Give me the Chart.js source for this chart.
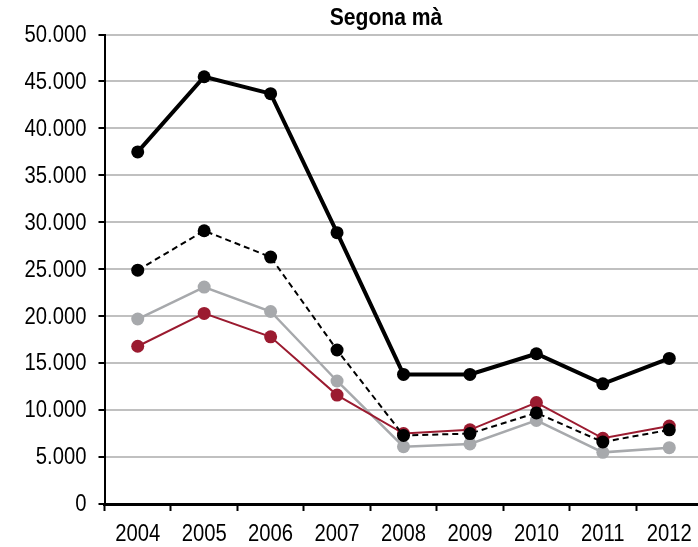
<!DOCTYPE html>
<html>
<head>
<meta charset="utf-8">
<script src="https://cdn.jsdelivr.net/npm/chart.js@4"></script>
<style>
html,body{margin:0;padding:0;background:#fff;overflow:hidden;}
#wrap{width:698px;height:547px;overflow:hidden;position:relative;}
canvas{position:absolute;left:0;top:0;}
</style>
</head>
<body>
<div id="wrap"><canvas id="c" width="709" height="547"></canvas></div>
<script>
const title = 'Segona mà';
const categories = ['2004','2005','2006','2007','2008','2009','2010','2011','2012'];
const seriesTotal = [37500, 45500, 43700, 28900, 13800, 13800, 16000, 12800, 15500];
const seriesDashed = [24900, 29100, 26300, 16400, 7300, 7500, 9700, 6600, 7900];
const seriesGray = [19700, 23100, 20500, 13100, 6100, 6400, 8900, 5500, 6000];
const seriesRed = [16800, 20300, 17800, 11600, 7500, 7900, 10800, 7000, 8300];
const yTicks = [0, 5000, 10000, 15000, 20000, 25000, 30000, 35000, 40000, 45000, 50000];

const FONT = "'Liberation Sans', Arial, sans-serif";
const SX = 0.88;

function fmt(v){ return v === 0 ? '0' : v.toLocaleString('de-DE'); }

function drawText(ctx, txt, x, y, align, font){
  ctx.save();
  ctx.translate(x, y);
  ctx.scale(SX, 1);
  ctx.font = font;
  ctx.fillStyle = '#000';
  ctx.textAlign = align;
  ctx.textBaseline = 'middle';
  ctx.fillText(txt, 0, 0);
  ctx.restore();
}

const textPlugin = {
  id: 'tp',
  afterDraw(chart){
    const ctx = chart.ctx;
    const ca = chart.chartArea;
    drawText(ctx, title, 386, 18, 'center', "bold 24px " + FONT);
    const ys = chart.scales.y;
    ys.ticks.forEach(t => {
      drawText(ctx, fmt(t.value), ca.left - 18, ys.getPixelForValue(t.value) + 1, 'right', "23px " + FONT);
    });
    const xs = chart.scales.x;
    categories.forEach((c, i) => {
      drawText(ctx, c, xs.getPixelForTick(i), ca.bottom + 31, 'center', "23px " + FONT);
    });
  }
};

new Chart(document.getElementById('c'), {
  type: 'line',
  data: {
    labels: categories,
    datasets: [
      {data: seriesTotal, borderColor:'#000', backgroundColor:'#000', borderWidth:4, pointRadius:6.5, pointHoverRadius:6.5, pointBorderWidth:0, tension:0},
      {data: seriesDashed, borderColor:'#000', backgroundColor:'#000', borderWidth:2, borderDash:[6,4], pointRadius:6.5, pointHoverRadius:6.5, pointBorderWidth:0, tension:0},
      {data: seriesRed, borderColor:'#9b1b30', backgroundColor:'#9b1b30', borderWidth:2, pointRadius:6.5, pointHoverRadius:6.5, pointBorderWidth:0, tension:0},
      {data: seriesGray, borderColor:'#a7a9ac', backgroundColor:'#a7a9ac', borderWidth:2.5, pointRadius:6.5, pointHoverRadius:6.5, pointBorderWidth:0, tension:0}
    ]
  },
  options: {
    responsive: false,
    animation: false,
    layout: {padding: {top: 34.5, right: 0, bottom: 0, left: 0}},
    plugins: {legend:{display:false}, tooltip:{enabled:false}, title:{display:false}},
    scales: {
      x: {
        offset: true,
        afterFit(scale){ scale.height = 43; },
        grid: {display:true, drawOnChartArea:false, offset:true, tickColor:'#000', tickLength:7, tickWidth:2},
        border: {display:true, color:'#000', width:3},
        ticks: {display:false, autoSkip:false, maxRotation:0}
      },
      y: {
        min: 0, max: 50000,
        afterBuildTicks(scale){ scale.ticks = yTicks.map(v => ({value:v})); },
        afterFit(scale){ scale.width = 104.5; },
        grid: {color:'#c0c0c0', lineWidth:2, tickColor:'#000', tickLength:6, tickWidth:2},
        border: {display:true, color:'#000', width:2},
        ticks: {display:false}
      }
    }
  },
  plugins: [textPlugin]
});
</script>
</body>
</html>
